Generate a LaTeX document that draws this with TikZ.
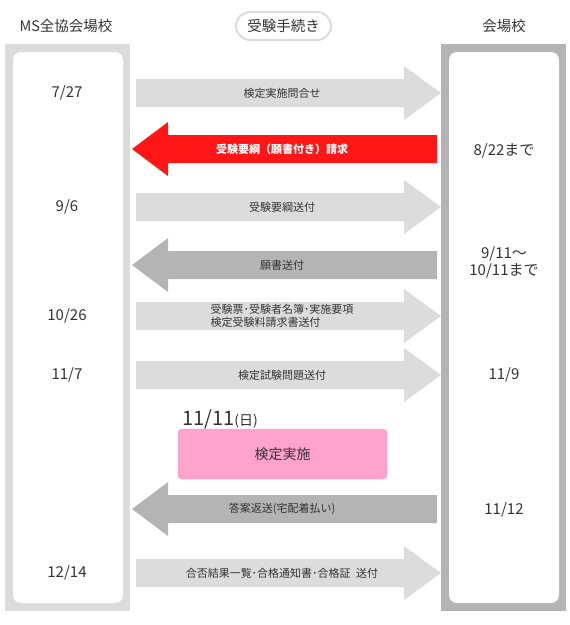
\documentclass[tikz,border=0pt]{standalone}
\usepackage{fontspec}
\setmainfont{Noto Sans CJK JP}
\usetikzlibrary{positioning}

\definecolor{framelight}{HTML}{DCDCDC}
\definecolor{framedark}{HTML}{B4B4B4}
\definecolor{arrowlight}{HTML}{DCDCDC}
\definecolor{arrowdark}{HTML}{B4B4B4}
\definecolor{arrowred}{HTML}{FF1616}
\definecolor{examfill}{HTML}{FFA3CC}
\definecolor{examline}{HTML}{FF94C2}
\definecolor{textgray}{HTML}{333333}

\tikzstyle{heading} = [font=\fontsize{14.5}{17}\selectfont, text=textgray]
\tikzstyle{pill} = [heading, draw=framelight, line width=2pt, fill=white, rounded corners=14pt, minimum width=95pt, minimum height=28pt]
\tikzstyle{datum} = [font=\fontsize{15}{17}\selectfont, text=textgray, align=center]
\tikzstyle{arrowtext} = [font=\fontsize{11}{13}\selectfont, text=textgray, inner sep=0pt]
\tikzstyle{redtext} = [arrowtext, text=white, font=\fontsize{11}{13}\selectfont\bfseries]
\tikzstyle{exambox} = [rectangle, rounded corners=4pt, fill=examfill, draw=examline, minimum width=209pt, minimum height=50pt, font=\fontsize{14}{16}\selectfont, text=textgray]

% fat arrows, #1 colour, #2 centre line
\newcommand{\arrowtoschool}[2]{\fill[#1] (136,{#2-14}) -- (404,{#2-14}) -- (404,{#2-27}) -- (441,#2) -- (404,{#2+27}) -- (404,{#2+14}) -- (136,{#2+14}) -- cycle;}
\newcommand{\arrowtooffice}[2]{\fill[#1] (437,{#2-14}) -- (168,{#2-14}) -- (168,{#2-27}) -- (132,#2) -- (168,{#2+27}) -- (168,{#2+14}) -- (437,{#2+14}) -- cycle;}

\begin{document}
\begin{tikzpicture}[x=1pt, y=-1pt]
    \useasboundingbox (0,0) rectangle (570,625);

    % columns
    \fill[framelight] (5,44) rectangle (130,611);
    \fill[white, rounded corners=8pt] (13,52) rectangle (123,603);
    \fill[framedark] (441,44) rectangle (566,611);
    \fill[white, rounded corners=8pt] (449,52) rectangle (559,603);

    \node (office) [heading] at (66,26) {MS全協会場校};
    \node (proc) [pill] at (283.5,26) {受験手続き};
    \node (school) [heading] at (504,26) {会場校};

    % arrows
    \arrowtoschool{arrowlight}{93}
    \arrowtooffice{arrowred}{149}
    \arrowtoschool{arrowlight}{207}
    \arrowtooffice{arrowdark}{265}
    \arrowtoschool{arrowlight}{316}
    \arrowtoschool{arrowlight}{375}
    \arrowtooffice{arrowdark}{509}
    \arrowtoschool{arrowlight}{573}

    \node (step1) [arrowtext] at (282,93) {検定実施問合せ};
    \node (step2) [redtext] at (282,149) {受験要綱（願書付き）請求};
    \node (step3) [arrowtext] at (282,207) {受験要綱送付};
    \node (step4) [arrowtext] at (282,265) {願書送付};
    \node (step5) [arrowtext, align=left] at (282,316) {受験票･受験者名簿･実施要項\\検定受験料請求書送付};
    \node (step6) [arrowtext] at (282,375) {検定試験問題送付};
    \node (step7) [arrowtext] at (282,509) {答案返送(宅配着払い)};
    \node (step8) [arrowtext] at (282,573) {合否結果一覧･合格通知書･合格証\enspace 送付};

    % exam day
    \node (day) [anchor=base west, text=textgray, inner sep=0pt] at (182,425) {\fontsize{20}{22}\selectfont 11/11\fontsize{14}{16}\selectfont (日)};
    \node (exam) [exambox] at (282.5,454) {検定実施};

    % dates
    \node (d1) [datum] at (67,93) {7/27};
    \node (d2) [datum] at (67,207) {9/6};
    \node (d3) [datum] at (67,316) {10/26};
    \node (d4) [datum] at (67,375) {11/7};
    \node (d5) [datum] at (67,573) {12/14};

    \node (s1) [datum] at (504,151) {8/22まで};
    \node (s2) [datum] at (504,262) {9/11～\\10/11まで};
    \node (s3) [datum] at (504,375) {11/9};
    \node (s4) [datum] at (504,510) {11/12};

\end{tikzpicture}
\end{document}
